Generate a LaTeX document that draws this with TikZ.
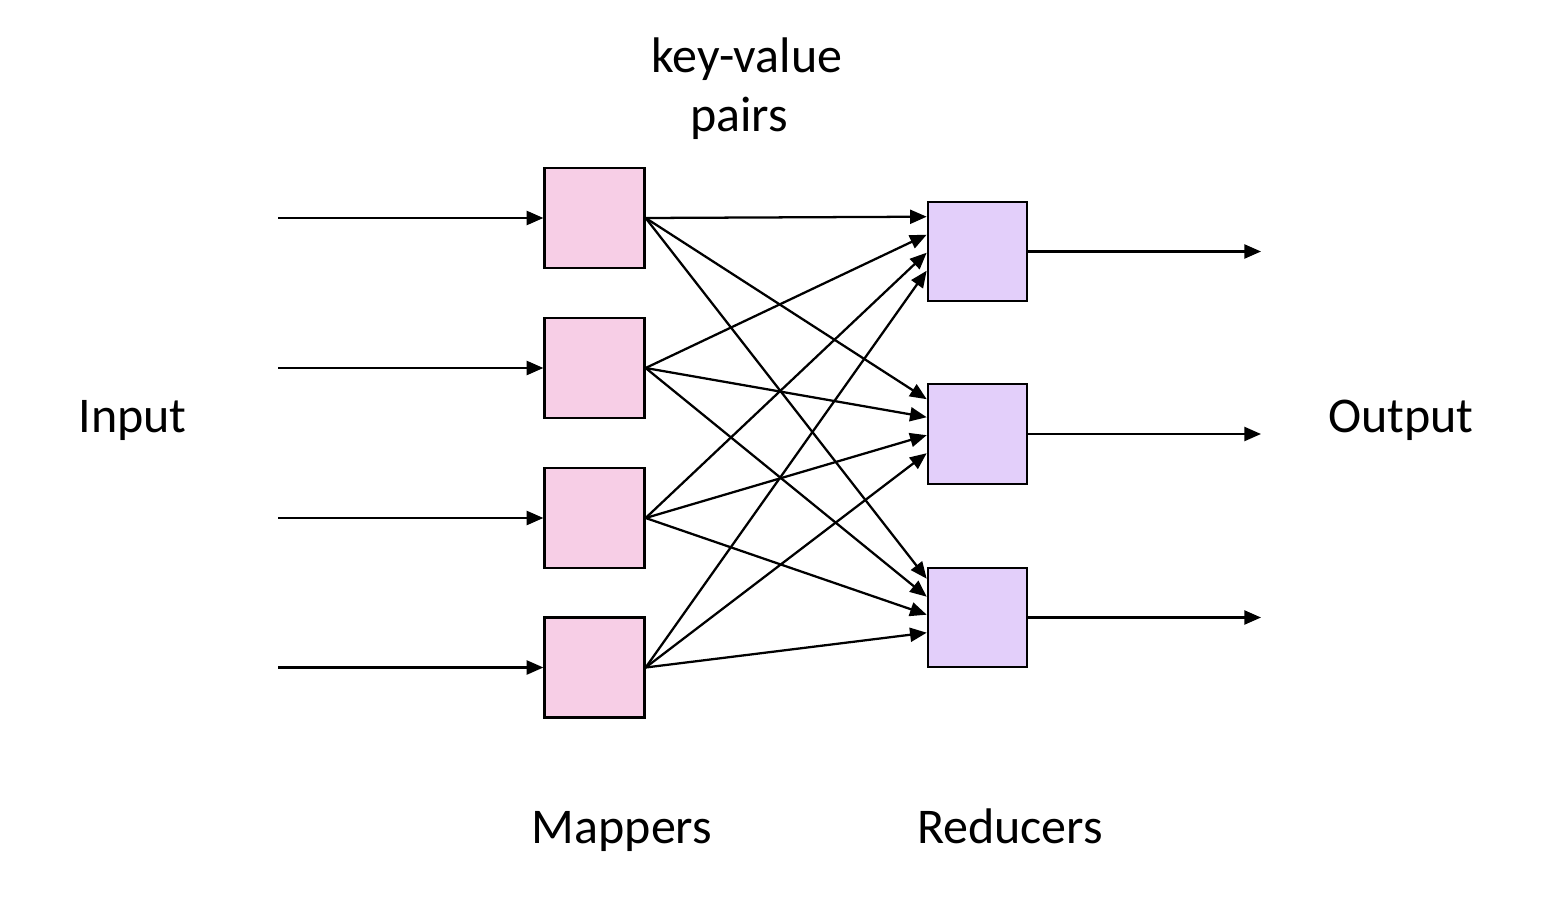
\documentclass[tikz,border=0pt]{standalone}
\usepackage{fontspec}
\setmainfont{Carlito}
\usetikzlibrary{arrows.meta}
\definecolor{mapfill}{RGB}{247,206,230}
\definecolor{redfill}{RGB}{227,207,250}

\begin{document}
\begin{tikzpicture}[x=0.75pt,y=0.75pt,yscale=-1,xscale=1,line width=1.7pt,
  mapbox/.style={draw, fill=mapfill, minimum size=75pt, inner sep=0pt},
  redbox/.style={draw, fill=redfill, minimum size=74.5pt, inner sep=0pt},
  flow/.style={-{Triangle[length=12.5pt,width=10.5pt]}},
  txt/.style={inner sep=0pt, anchor=base, font=\fontsize{37.5}{45}\selectfont}]
\useasboundingbox (0,0) rectangle (1566,916);

%Mappers and their inputs
\foreach \i/\y in {1/218,2/368,3/518,4/667.5} {
  \node[mapbox] (m\i) at (594.5,\y) {};
  \coordinate (in\i) at (278,\y);
  \draw[flow] (in\i) -- (m\i.west);
}
%Reducers and their outputs
\foreach \i/\y in {1/251.5,2/434,3/617.5} {
  \node[redbox] (r\i) at (977.5,\y) {};
  \coordinate (out\i) at (1261,\y);
  \draw[flow] (r\i.east) -- (out\i);
}
%Straight Lines: every mapper to every reducer
\foreach \r/\s in {1/16,2/16,3/12}
  \foreach \m in {1,...,4}
    \draw[flow] (m\m.east) -- ([yshift={(\s+18*(\m-1))*0.75pt}]r\r.north west);

% Text Node
\node[txt] (kv) at (747,73) {key-value};
% Text Node
\node[txt] (pr) at (739,132) {pairs};
% Text Node
\node[txt] (inp) at (132.5,432) {Input};
% Text Node
\node[txt] (outp) at (1401,432) {Output};
% Text Node
\node[txt] (mp) at (622,843) {Mappers};
% Text Node
\node[txt] (rd) at (1010,843) {Reducers};

\end{tikzpicture}
\end{document}
